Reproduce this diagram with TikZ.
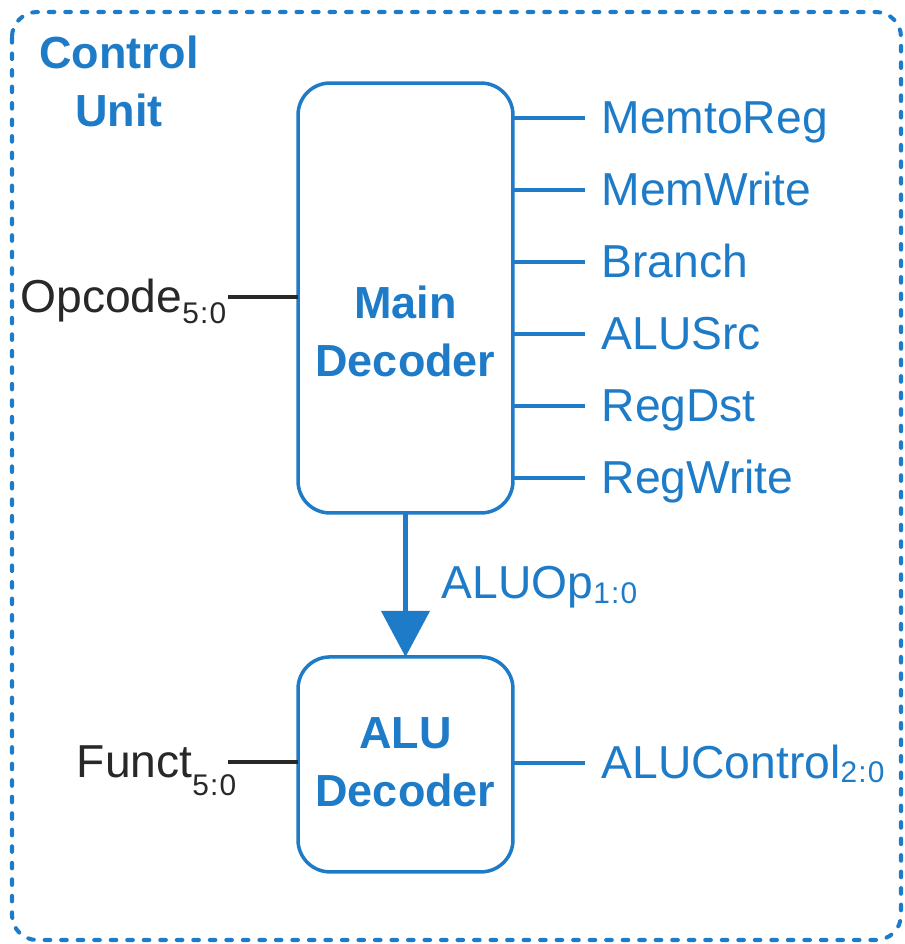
\documentclass[tikz,border=0pt]{standalone}
\usepackage{fontspec}
\setmainfont{Liberation Sans}
\newfontfamily\subfont[LetterSpace=4]{Liberation Sans}
\usetikzlibrary{arrows.meta,positioning}

\definecolor{cublue}{RGB}{30,123,200}
\definecolor{cudark}{RGB}{40,40,40}

% index set low and small after a signal name
\newcommand\lowidx[2][0.25em]{\raisebox{-#1}{\fontsize{17}{17}\subfont #2}}

\begin{document}
\begin{tikzpicture}[x=0.02cm,y=-0.02cm,line width=2pt,
  >={Triangle[width=0.96cm,length=0.92cm]},
  font=\fontsize{26.3}{33}\selectfont,
  blk/.style={draw=cublue,rounded corners=0.64cm,minimum width=4.3cm,outer sep=0pt},
  title/.style={text=cublue,font=\fontsize{25.6}{33}\selectfont\bfseries,align=center},
  sig/.style={anchor=west,text=cublue,inner xsep=0.3cm,inner ysep=0pt,text height=17.5pt,text depth=0pt},
  insig/.style={anchor=east,text=cudark,inner sep=0pt,text height=17.5pt,text depth=0pt},
  wire/.style={draw=cublue},
  inwire/.style={draw=cudark},
  border/.style={draw=cublue,line width=2.3pt,line cap=round,dash pattern=on 3.2pt off 6.2pt,rounded corners=0.5cm}]

  \useasboundingbox (0,0) rectangle (904,944);
  \draw[border] (12,12) rectangle (901,940);

  \node[title] (cu) at (119,81) {Control\\Unit};

  % decoders
  \node[blk,minimum height=8.6cm] (main) at (405.5,298) {};
  \node[blk,minimum height=4.3cm,below=2.88cm of main] (alu) {};
  \node[title] (maintxt) at ([yshift=-0.66cm]main.center) {Main\\Decoder};
  \node[title] (alutxt) at ([yshift=0.04cm]alu.center) {ALU\\Decoder};

  % outputs of the main decoder
  \foreach \s [count=\i] in {MemtoReg,MemWrite,Branch,ALUSrc,RegDst,RegWrite}{
    \node[sig] (o\i) at (585,{46+72*\i}) {\s};
    \draw[wire] (main.east |- o\i) -- (o\i.west);
  }

  % inputs
  \node[insig] (opc) at (228,297) {Opcode\lowidx{5:0}};
  \node[insig] (fct) at (238,762) {Funct\lowidx[0.4em]{5:0}};
  \draw[inwire] (opc.east) -- (opc.east -| main.west);
  \draw[inwire,shorten <=-0.2cm] (fct.east) -- (fct.east -| alu.west);

  \node[sig] (aluctl) at (585,763) {ALUControl\lowidx[0.08em]{2:0}};
  \draw[wire] (alu.east |- aluctl) -- (aluctl.west);

  \draw[->,draw=cublue,fill=cublue,line width=2.3pt] (main.south) -- (alu.north);
  \node[sig,inner xsep=0pt] (aluop) at (440,583) {ALUOp\lowidx[0.1em]{1:0}};
\end{tikzpicture}
\end{document}
